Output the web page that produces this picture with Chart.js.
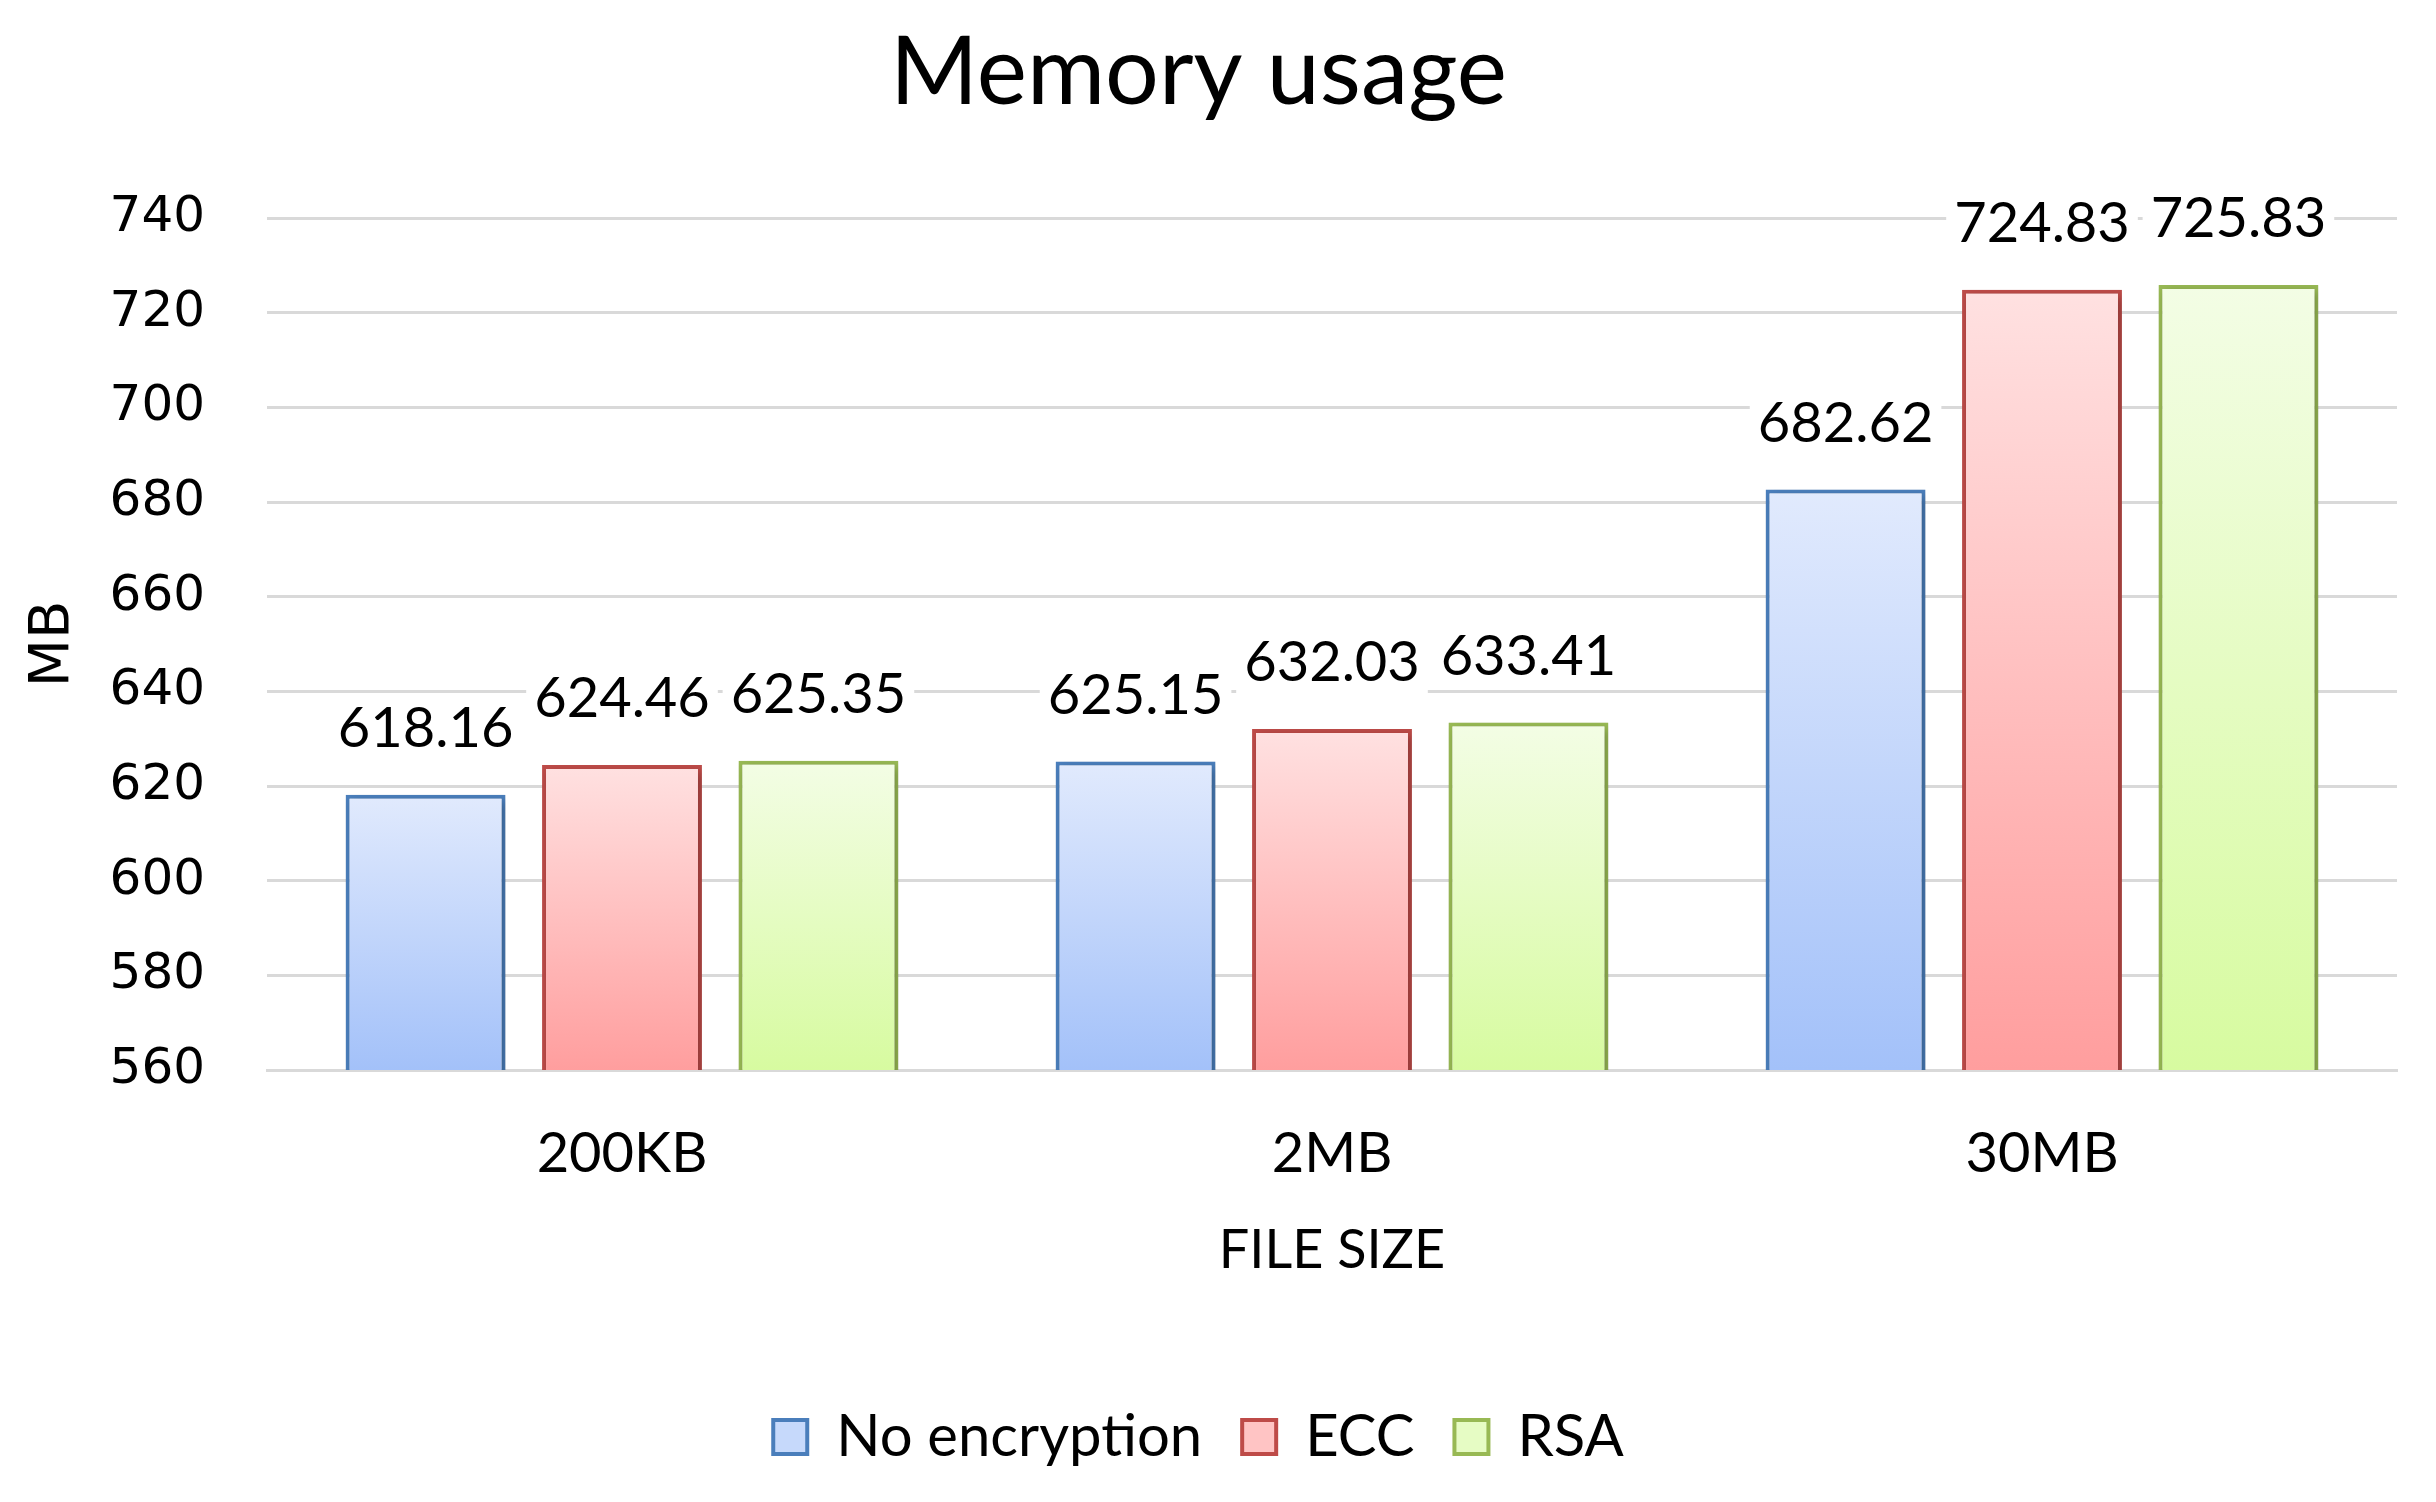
<!DOCTYPE html>
<html>
<head>
<meta charset="utf-8">
<title>Memory usage</title>
<script src="https://cdn.jsdelivr.net/npm/chart.js@4.4.0/dist/chart.umd.min.js"></script>
<style>
  html, body { margin: 0; padding: 0; background: #fff; }
  #wrap { width: 2436px; height: 1502px; }
</style>
</head>
<body>
<div id="wrap"><canvas id="chart" width="2436" height="1502"></canvas></div>
<script>
// data
const categories = ['200KB', '2MB', '30MB'];
const noEncryption = [618.16, 625.15, 682.62];
const ecc = [624.46, 632.03, 724.83];
const rsa = [625.35, 633.41, 725.83];
const yMin = 560, yMax = 740, yStep = 20;

// fill gradients per bar: top colour -> bottom colour
const palette = {
  'No encryption': { top: '#e1eafd', bottom: '#a3c1f9', border: '#4a7ebb', legend: '#c6d9fb' },
  'ECC':           { top: '#ffe1e1', bottom: '#ff9e9e', border: '#be4b48', legend: '#ffc4c4' },
  'RSA':           { top: '#f3fde5', bottom: '#d7fba0', border: '#98b954', legend: '#e6fcc4' }
};

function barGradient(name) {
  return function(c) {
    const chart = c.chart;
    const area = chart.chartArea;
    const p = palette[name];
    if (!area || c.raw === undefined) return p.legend;
    const top = chart.scales.y.getPixelForValue(c.raw);
    const g = chart.ctx.createLinearGradient(0, top, 0, area.bottom);
    g.addColorStop(0, p.top);
    g.addColorStop(1, p.bottom);
    return g;
  };
}

function makeSet(name, values) {
  return {
    label: name,
    data: values,
    backgroundColor: barGradient(name),
    borderColor: palette[name].border,
    borderWidth: 4,
    borderSkipped: false,
    categoryPercentage: 0.83,
    barPercentage: 0.814
  };
}

// soft shadow under the bars, like the office chart
const barShadow = {
  id: 'barShadow',
  beforeDatasetsDraw(chart) {
    const ctx = chart.ctx;
    ctx.save();
    ctx.shadowColor = 'rgba(0,0,0,0.28)';
    ctx.shadowBlur = 9;
    ctx.shadowOffsetX = 3;
    ctx.shadowOffsetY = 3;
  },
  afterDatasetsDraw(chart) {
    chart.ctx.restore();
  }
};

// value labels on white boxes above each bar
const barLabels = {
  id: 'barLabels',
  afterDatasetsDraw(chart) {
    const ctx = chart.ctx;
    ctx.save();
    ctx.font = '56px Lato';
    ctx.textAlign = 'center';
    ctx.textBaseline = 'middle';
    chart.data.datasets.forEach((ds, i) => {
      chart.getDatasetMeta(i).data.forEach((bar, j) => {
        const txt = ds.data[j].toFixed(2);
        const y = bar.y - 68;
        const w = ctx.measureText(txt).width + 16;
        ctx.fillStyle = '#fff';
        ctx.fillRect(bar.x - w / 2, y - 32, w, 64);
        ctx.fillStyle = '#000';
        ctx.fillText(txt, bar.x, y + 2);
      });
    });
    ctx.restore();
  }
};

new Chart(document.getElementById('chart'), {
  type: 'bar',
  data: {
    labels: categories,
    datasets: [
      makeSet('No encryption', noEncryption),
      makeSet('ECC', ecc),
      makeSet('RSA', rsa)
    ]
  },
  options: {
    responsive: false,
    animation: false,
    devicePixelRatio: 1,
    layout: { padding: { top: 0, left: 0, right: 39, bottom: 26 } },
    plugins: {
      title: {
        display: true,
        text: 'Memory usage',
        color: '#000',
        font: { family: 'Lato', size: 95, weight: 'normal' },
        padding: { top: 16, bottom: 88 }
      },
      legend: {
        position: 'bottom',
        labels: {
          color: '#000',
          font: { family: 'Lato', size: 58 },
          boxWidth: 34,
          boxHeight: 34,
          padding: 40,
          generateLabels(chart) {
            return chart.data.datasets.map((ds, i) => ({
              text: ds.label,
              fillStyle: palette[ds.label].legend,
              strokeStyle: palette[ds.label].border,
              lineWidth: 4,
              hidden: false,
              datasetIndex: i
            }));
          }
        }
      },
      tooltip: { enabled: false }
    },
    scales: {
      x: {
        afterFit(scale) { scale.height = 298; },
        grid: { display: false, drawTicks: false },
        border: { display: true, color: '#d9d9d9', width: 3 },
        ticks: { color: '#000', font: { family: 'Lato', size: 56 }, padding: 50 },
        title: {
          display: true,
          text: 'FILE SIZE',
          color: '#000',
          font: { family: 'Lato', size: 54 },
          padding: { top: 0, bottom: 85 }
        }
      },
      y: {
        min: yMin,
        max: yMax,
        afterFit(scale) { scale.width = 267; },
        grid: { color: '#d9d9d9', lineWidth: 3, drawTicks: false },
        border: { display: false },
        ticks: { stepSize: yStep, color: '#000', font: { family: 'DejaVu Sans', size: 50 }, padding: 62 },
        title: {
          display: true,
          text: 'MB',
          color: '#000',
          font: { family: 'DejaVu Sans', size: 56 },
          padding: { top: 20, bottom: 0 }
        }
      }
    }
  },
  plugins: [barShadow, barLabels]
});
</script>
</body>
</html>
